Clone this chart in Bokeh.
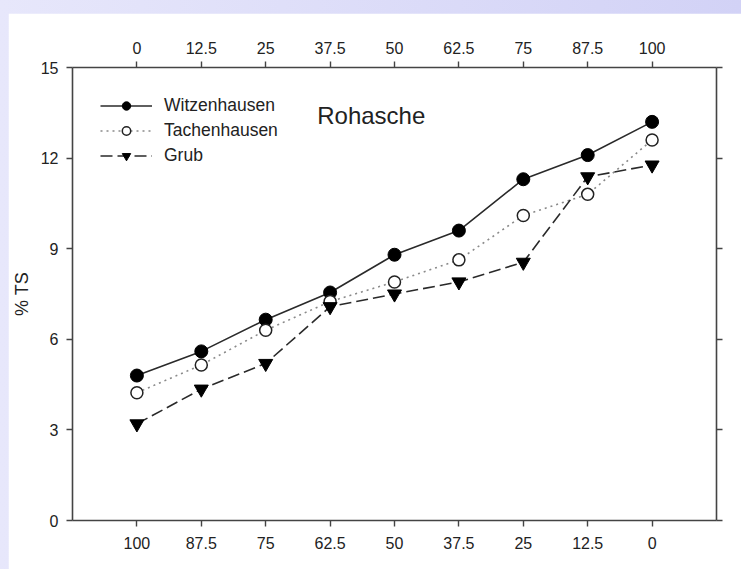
from bokeh.embed import file_html
from bokeh.models import (FixedTicker, Label, Legend, LegendItem, LinearAxis,
                          Range1d)
from bokeh.plotting import figure
from bokeh.resources import INLINE

# Mixing share (top axis) and the complementary share (bottom axis)
mix_share = [0, 12.5, 25, 37.5, 50, 62.5, 75, 87.5, 100]
bottom_labels = ["100", "87.5", "75", "62.5", "50", "37.5", "25", "12.5", "0"]
y_ticks = [0, 3, 6, 9, 12, 15]

# Rohasche content in % TS
witzenhausen = [4.8, 5.6, 6.65, 7.55, 8.8, 9.6, 11.3, 12.1, 13.2]
tachenhausen = [4.23, 5.15, 6.3, 7.25, 7.9, 8.63, 10.1, 10.8, 12.6]
grub = [3.2, 4.35, 5.2, 7.08, 7.5, 7.9, 8.55, 11.38, 11.77]

FONT = "Liberation Sans"
INK = "#222222"
AXIS = "#444444"


def tick_key(t):
    return int(t) if float(t).is_integer() else t


p = figure(width=733, height=556, output_backend="svg", toolbar_location=None,
           x_range=Range1d(-12.5, 112.5), y_range=Range1d(0, 15),
           x_axis_location=None, y_axis_location=None,
           min_border_left=62, min_border_right=25,
           min_border_top=54, min_border_bottom=49,
           border_fill_color="white", background_fill_color="white",
           outline_line_color=None)
p.margin = (13, 0, 0, 8)
p.grid.visible = False

bottom_axis = LinearAxis(ticker=FixedTicker(ticks=mix_share))
top_axis = LinearAxis(ticker=FixedTicker(ticks=mix_share))
left_axis = LinearAxis(ticker=FixedTicker(ticks=y_ticks))
right_axis = LinearAxis(ticker=FixedTicker(ticks=y_ticks))

bottom_axis.major_label_overrides = {tick_key(t): lab for t, lab in zip(mix_share, bottom_labels)}
right_axis.major_label_overrides = {tick_key(t): "" for t in y_ticks}

for ax in [bottom_axis, top_axis, left_axis, right_axis]:
    ax.axis_line_color = AXIS
    ax.axis_line_width = 1.6
    ax.major_tick_line_color = AXIS
    ax.major_tick_line_width = 1.4
    ax.major_tick_out = 6
    ax.major_tick_in = 0
    ax.minor_tick_line_color = None
    ax.major_label_text_font = FONT
    ax.major_label_text_font_size = "16px"
    ax.major_label_text_color = INK
    ax.major_label_standoff = 8

bottom_axis.major_label_standoff = 10
left_axis.axis_label = "% TS"
left_axis.axis_label_text_font = FONT
left_axis.axis_label_text_font_size = "18px"
left_axis.axis_label_text_font_style = "normal"
left_axis.axis_label_text_color = INK
left_axis.axis_label_standoff = 6

p.add_layout(bottom_axis, "below")
p.add_layout(top_axis, "above")
p.add_layout(left_axis, "left")
p.add_layout(right_axis, "right")

# Series
w_line = p.line(mix_share, witzenhausen, line_color="#2a2a2a", line_width=1.6)
w_pts = p.scatter(mix_share, witzenhausen, marker="circle", size=13,
                  fill_color="black", line_color="black")

t_line = p.line(mix_share, tachenhausen, line_color="#8a8a8a", line_width=1.6,
                line_dash="2 4")
t_pts = p.scatter(mix_share, tachenhausen, marker="circle", size=12,
                  fill_color="white", line_color="#222222", line_width=1.5)

g_line = p.line(mix_share, grub, line_color="#2a2a2a", line_width=1.6,
                line_dash="12 5")
g_pts = p.scatter(mix_share, grub, marker="inverted_triangle", size=14,
                  fill_color="black", line_color="black")

legend = Legend(items=[
    LegendItem(label="Witzenhausen", renderers=[w_line, w_pts]),
    LegendItem(label="Tachenhausen", renderers=[t_line, t_pts]),
    LegendItem(label="Grub", renderers=[g_line, g_pts]),
], location="top_left", margin=28, padding=0, spacing=4,
    glyph_width=52, glyph_height=21, label_height=21, label_standoff=12,
    label_text_font=FONT, label_text_font_size="17.5px", label_text_color=INK,
    border_line_color=None, background_fill_alpha=0)
p.add_layout(legend)

p.add_layout(Label(x=35.0, y=13.4, text="Rohasche", text_font=FONT,
                   text_font_size="24px", text_color=INK,
                   text_baseline="middle", text_align="left"))

html = file_html(p, INLINE, title="Rohasche")
page_style = ("<style>html, body { margin: 0; padding: 0; "
              "background: linear-gradient(to right, #e7e7fb, #d2d2f6); }</style>")
html = html.replace("</head>", page_style + "\n</head>", 1)
with open("out.html", "w") as f:
    f.write(html)
